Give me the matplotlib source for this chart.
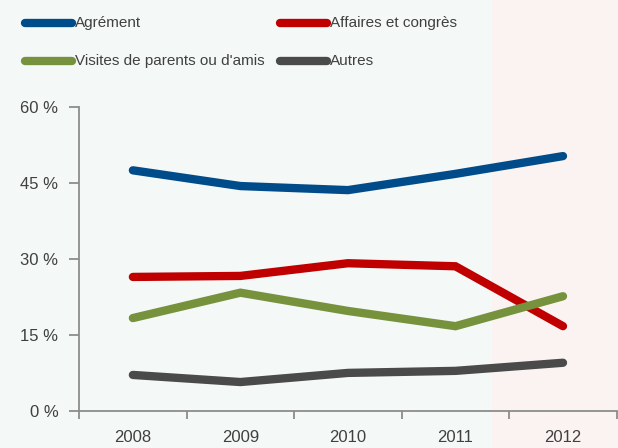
import numpy as np
import matplotlib.pyplot as plt
from matplotlib import font_manager
from matplotlib.lines import Line2D

years = ["2008", "2009", "2010", "2011", "2012"]
agrement = [47.5, 44.4, 43.6, 46.8, 50.3]
affaires = [26.5, 26.7, 29.2, 28.6, 16.8]
visites = [18.4, 23.4, 19.8, 16.8, 22.7]
autres = [7.2, 5.8, 7.6, 8.0, 9.6]

series = [
    ("Agrément", agrement, "#004C8A"),
    ("Affaires et congrès", affaires, "#C00000"),
    ("Visites de parents ou d'amis", visites, "#76923C"),
    ("Autres", autres, "#4A4A4A"),
]

# reference uses a narrow Arial-like face; use a narrow one if present
names = {f.name for f in font_manager.fontManager.ttflist}
if "Liberation Sans Narrow" in names:
    plt.rcParams["font.family"] = ["Liberation Sans Narrow", "DejaVu Sans"]
    leg_size, tick_size = 13, 14
else:
    plt.rcParams["font.family"] = ["Liberation Sans", "DejaVu Sans"]
    leg_size, tick_size = 11, 12
text_col = "#404040"
axis_col = "#8C8C8C"

fig = plt.figure(figsize=(6.18, 4.48), dpi=100)

# faint flag-like background
bg = fig.add_axes([0, 0, 1, 1], zorder=-10)
bg.axis("off")
grad = np.ones((1, 618, 3))
grad[0, :, :] = np.array([0.957, 0.976, 0.969])
grad[0, 492:, :] = np.array([0.988, 0.953, 0.949])
bg.imshow(grad, aspect="auto", extent=[0, 1, 0, 1])
bg.set_xlim(0, 1)
bg.set_ylim(0, 1)

ax = fig.add_axes([0.128, 0.0815, 0.87, 0.680])
ax.patch.set_alpha(0)
x = np.arange(len(years))
for name, vals, col in series:
    ax.plot(x, vals, color=col, lw=6, solid_capstyle="round", solid_joinstyle="miter")

ax.set_xlim(-0.5, 4.5)
ax.set_ylim(0, 60)
ax.set_yticks([0, 15, 30, 45, 60])
ax.set_yticklabels(["0 %", "15 %", "30 %", "45 %", "60 %"])
ax.set_xticks(x)
ax.set_xticklabels(years)
ax.set_xticks(np.arange(-0.5, 5, 1), minor=True)
ax.tick_params(axis="x", which="major", length=0, pad=13, labelsize=tick_size, labelcolor=text_col)
ax.tick_params(axis="x", which="minor", length=6, color=axis_col, width=1.3)
ax.tick_params(axis="y", length=7, color=axis_col, width=1.3, pad=8, labelsize=tick_size, labelcolor=text_col)
for s in ["top", "right"]:
    ax.spines[s].set_visible(False)
for s in ["left", "bottom"]:
    ax.spines[s].set_color(axis_col)
    ax.spines[s].set_linewidth(1.3)

# legend drawn manually in figure pixels
legend_pos = [(25, 23), (280, 23), (25, 61), (280, 61)]
for (name, vals, col), (px, py) in zip(series, legend_pos):
    yy = 1 - py / 448
    fig.add_artist(Line2D([px / 618, (px + 47) / 618], [yy, yy], color=col, lw=6,
                          solid_capstyle="round", transform=fig.transFigure))
    fig.text((px + 50) / 618, yy, name, fontsize=leg_size, color=text_col, va="center", ha="left")

fig.savefig("out.png", dpi=100)
